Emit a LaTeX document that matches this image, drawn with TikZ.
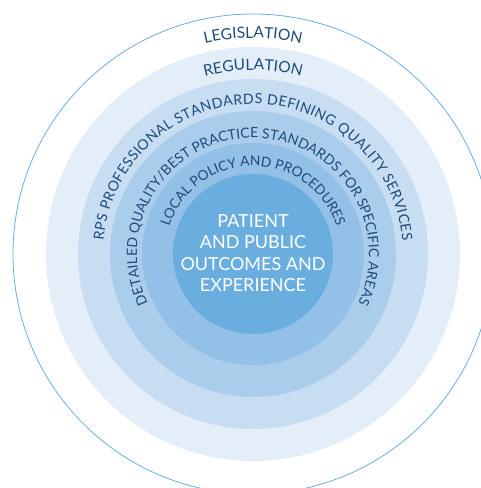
\documentclass[tikz,border=0pt]{standalone}
\usepackage{fontspec}
\setmainfont{Lato}
\usetikzlibrary{decorations.text,calc}
\definecolor{ringA}{HTML}{6AADDF}
\definecolor{ringB}{HTML}{93C0E7}
\definecolor{ringC}{HTML}{ABCDEC}
\definecolor{ringD}{HTML}{C7DDF2}
\definecolor{ringE}{HTML}{E4EEF8}
\definecolor{edgeblue}{HTML}{6AAEE0}
\definecolor{navy}{HTML}{1D4B7C}
\tikzset{
  arclabel/.style={decorate, decoration={text along path, text align=center, text color=navy, text={#1}}},
  fitlabel/.style={decorate, decoration={text along path, text align={fit to path}, text color=navy, text={#1}}},
}
\begin{document}
\begin{tikzpicture}[x=1pt,y=1pt]
\useasboundingbox (0,0) rectangle (481,488);
\coordinate (O) at (253,234);
\begin{scope}
\clip (0,0) rectangle (481,488);
\draw[edgeblue, line width=0.8pt, fill=white] (O) circle[radius=240];
\end{scope}
\fill[ringE] (O) circle[radius=207];
\fill[ringD] (O) circle[radius=175];
\fill[ringC] (O) circle[radius=143];
\fill[ringB] (O) circle[radius=111];
\fill[ringA] (O) circle[radius=80];
\path[arclabel={|\fontsize{15.5}{18}\selectfont|LEGISLATION}] ($(O)+(180:216)$) arc[start angle=180, end angle=0, radius=216];
\path[arclabel={|\fontsize{15.5}{18}\selectfont|REGULATION}] ($(O)+(180:184)$) arc[start angle=180, end angle=0, radius=184];
\path[fitlabel={|\fontsize{14.2}{16}\selectfont|RPS PROFESSIONAL STANDARDS DEFINING QUALITY SERVICES}] ($(O)+(175:150)$) arc[start angle=175, end angle=5, radius=150];
\path[fitlabel={|\fontsize{14}{16}\selectfont|DETAILED QUALITY/BEST PRACTICE STANDARDS FOR SPECIFIC AREAS}] ($(O)+(205:116)$) arc[start angle=205, end angle=-25, radius=116];
\path[fitlabel={|\fontsize{13.7}{16}\selectfont|LOCAL POLICY AND PROCEDURES}] ($(O)+(162:88)$) arc[start angle=162, end angle=18, radius=88];
\node[align=center, text=white, font=\fontsize{18}{21.5}\selectfont] (core) at (253,235) {PATIENT\\AND PUBLIC\\OUTCOMES AND\\EXPERIENCE};
\end{tikzpicture}
\end{document}
